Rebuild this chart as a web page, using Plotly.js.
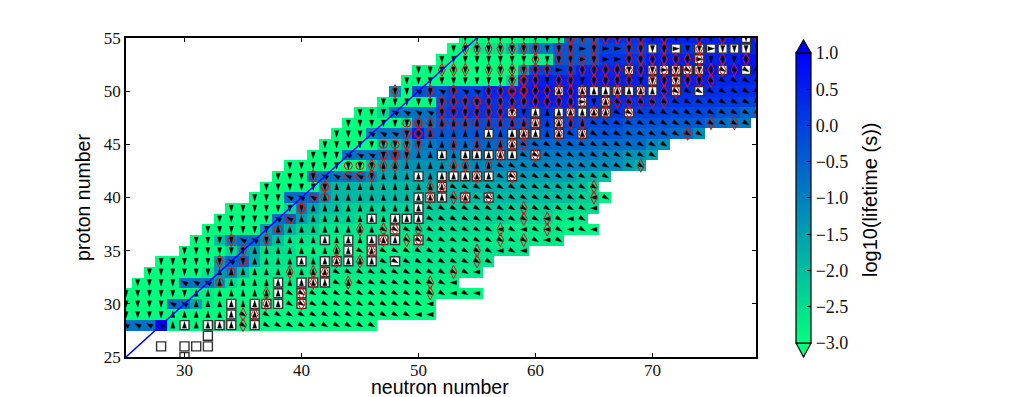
<!DOCTYPE html>
<html><head><meta charset="utf-8">
<script src="https://cdn.plot.ly/plotly-3.0.1.min.js"></script>
<style>html,body{margin:0;padding:0;background:#fff}</style></head>
<body><div id="chart" style="width:1016px;height:397px"></div>
<script>
// cell extent per proton number: [Z, first N, last N]
const rowExtent = [[28,25,46],[29,25,51],[30,25,51],[31,25,55],[32,26,53],[33,27,55],[34,28,56],[35,30,59],[36,31,62],[37,32,65],[38,33,64],[39,34,65],[40,36,66],[41,37,65],[42,38,66],[43,39,69],[44,41,70],[45,42,71],[46,43,74],[47,44,78],[48,45,79],[49,47,79],[50,48,79],[51,49,79],[52,50,79],[53,52,79],[54,53,79],[55,54,79]];

// log10(lifetime) read per row as N, value, N, value ... (value holds until next N)
const heat28=[25,-0.8,28,1,29,-2.8,31,-2.9,40,-3];
const heat29=[25,-3,35,-2.9,45,-3];
const heat30=[25,-3,29,-0.7,31,-1.6,32,-2.7,33,-2.9,45,-3];
const heat31=[25,-3,31,-2.7,33,-2.9];
const heat32=[26,-3,30,-0.8,33,-1.4,34,-2.4,35,-2.8];
const heat33=[27,-3,32,-2.6,33,-1.4,34,-1.1,35,-2.0,36,-2.7];
const heat34=[28,-3,33,-1.4,34,-0.6,36,-1.7,37,-2.6];
const heat35=[30,-3,34,-2.4,35,-1.4,36,-1.6,37,-2.5,40,-2.8,50,-2.6];
const heat36=[31,-3,33,-2.0,34,-1,35,-0.7,37,-1.3,38,-2,39,-2.6,42,-2.8,50,-2.6,56,-2.7];
const heat37=[32,-3,37,-1.4,38,-1.0,39,-1.8,40,-2.3,42,-2.6,50,-2.5,57,-2.7,63,-2.9];
const heat38=[33,-3,38,-0.8,39,-0.5,40,-1.5,41,-2.0,42,-2.3,45,-2.5,50,-2.3,58,-2.4,62,-2.7];
const heat39=[34,-3,39,-2.4,40,-1.0,41,-1.6,42,-2.0,44,-2.3,50,-2.2,58,-2.3,62,-2.5];
const heat40=[36,-3,39,-0.7,42,-1.4,43,-1.9,50,-1.9,60,-2.0,64,-2.3,66,-2.8];
const heat41=[37,-3,41,-2.9,42,-1.5,43,-1.9,50,-1.8,55,-1.7,60,-1.8,63,-2.0,65,-2.5];
const heat42=[38,-3,41,-0.8,46,-1.1,47,-1.6,50,-1.5,55,-1.4,60,-1.5,64,-1.8,66,-2.1];
const heat43=[39,-3,46,-2.0,47,-1.5,49,-1.3,55,-1.1,65,-1.2,68,-1.5,69,-1.8];
const heat44=[41,-3,44,-0.8,49,-1.1,50,-1.0,55,-0.9,66,-1.1,68,-1.3,70,-1.6];
const heat45=[42,-3,47,-2.0,49,-1.4,50,-0.9,52,-0.7,55,-0.6,65,-0.7,70,-1.1,71,-1.3];
const heat46=[43,-3,46,-1.1,47,-0.8,50,0.5,51,-0.4,55,-0.3,60,-0.2,64,-0.3,68,-0.5,72,-0.7,74,-1.2];
const heat47=[44,-3,49,-2.5,50,-0.9,52,-0.4,55,-0.2,60,0,64,-0.1,68,-0.3,72,-0.4,75,-0.7,77,-0.9];
const heat48=[45,-3,47,-2.4,48,-0.8,52,-0.1,53,0.2,68,0,72,-0.1,76,-0.3,78,-0.6];
const heat49=[47,-3,52,-0.3,53,0,55,0.2,60,0.5,64,0.3,70,0.2,74,0.1,78,0];
const heat50=[48,-1.3,49,-3,50,-0.3,53,0,56,0.4,60,0.6,66,0.4,72,0.3];
const heat51=[49,-3,58,-2.3,59,0.2,60,0.5,76,0.4];
const heat52=[50,-3,59,-1.4,60,0,64,0.4,70,0.7];
const heat53=[52,-3,60,-2.8,62,-0.4,66,0.2,70,0.5,78,0.7];
const heat54=[53,-3,55,-2.6,58,-2.0,59,-1.3,60,-0.9,62,-0.4,66,0,70,0.2,75,0.5];
const heat55=[54,-3,60,-2.8,63,-0.5,66,0.2,70,0.5];
const heatRows=[heat28,heat29,heat30,heat31,heat32,heat33,heat34,heat35,heat36,heat37,heat38,heat39,heat40,heat41,heat42,heat43,heat44,heat45,heat46,heat47,heat48,heat49,heat50,heat51,heat52,heat53,heat54,heat55];

// arrow direction per row as "N code" runs: d down, u up, s south-east, w west, n north-west, e east
const arrowRows=[
"25n 28n 29u 35s 36u 37s",
"25d 29u 35s 36u 37s 50w",
"25d 29n 31u 39s 51w",
"25d 31u 39s 53w 54s 55w",
"26d 30n 33u 43s 44u 45s 53w",
"27d 33u 43s 55w",
"28d 34n 35d 36u 47s",
"30d 36u 45s 46u 47s 57w 58s 59w",
"31d 35n 37d 38u 49s 61w 62s",
"32d 38u 47s 57w 58s 59w 60s 61w 62s 63w 64s 65w",
"33d 38n 40u 51s 61w 62s 63w 64s",
"34d 41u 51s 65w",
"36d 39n 42u 53s 54u 55s 65w 66s",
"37d 43u 53s",
"38d 42n 46d 47u 57s",
"39d 47u 57s",
"41d 44n 47d 50u 59s",
"42d 51u 59s",
"43d 46n 49d 51u 63s 64u 65s",
"44d 51u 65s",
"45d 48n 52d 60u 67s",
"47d 64e 65d 66u 67s",
"48d 50n 51d 52n 53d 54n 56d 58e 59d 62u 71s",
"49d 75s",
"50d 62e 63d 71e 72d 73s 74d 76s",
"52d 64e 65d 66e 68d 74e 75d",
"53d 64e 65d 66e 68d 72e 73d 75e 76d",
"54d"];

const squareZ=[25,26,27,28,29,30,31,32,33,34,35,36,37,38,39,40,41,42,44,45,46,47,48,49,50,51,52,53,54,55];
const squareN=[[30],[28,30,31,32],[32],[30,32,33,34,36],[34,36],[34,36,37,38,40],[38,40],[38,40,41,42],[42],[40,42,43,44,46,48],[44,46],[42,44,46,47,48,50],[48],[46,48,49,50],[50],[50,51,52,54,56],[52],[50,52,53,54,55,56,58],[52,54,55,56,57,58,60],[58],[56,58,59,60,62,64],[60,62],[58,60,62,63,64,65,66,68],[64,66],[62,64,65,66,67,68,69,70,72,74],[70,72],[68,70,71,72,73,74,76,78],[74],[70,72,74,75,76,77,78],[78]];

const diamondZ=[28,29,30,31,32,33,34,35,36,37,38,39,40,41,42,43,44,45,46,47,48,49,50,51,52,53,54,55];
const diamondN=[[35],[35,36],[37,40],[37,40,51],[41,44,51],[39,41,42,53],[33,43,45,55],[35,43,46,55],[34,37,47,49,50,57,59],[45,47,48,50,57,61],[59,61],[40,59],[51,53,54,56,65],[42,51,52,65],[41,46,55,58],[46,47,48,53,54,56,69],[48,49,57,60],[49,50,53,55,57,58,59],[50,51,59,62,64,73],[50,51,52,53,54,55,56,57,58,59,60,62,63,64,75,77],[52,54,55,56,57,58,63,65,66,68,79],[52,53,54,55,56,57,58,59,60,61,62,63,64,66,67,68,69,70,71],[48,51,53,56,57,58,59,60,61,62,63,64,67,69,71,72],[58,59,60,62,63,65,66,67,68,70,71,72,73,74,75],[52,53,54,56,57,58,59,60,61,63,64,65,66,67,68,69,70,71,72,73,74,75,76,77],[60,62,63,64,65,68,69,70,71,72,73,74,76,78],[54,55,56,57,58,59,60,62,63,65,68,69,71,74],[63,64,65,66,67,68,69,71,74,76,79]];

const circleZ=[32,33,34,37,38,39,40,41,42,43,44,45,46,47,48,49,50,51,55];
const circleN=[[33],[34],[35],[38],[39],[40],[41,42],[42],[44,45],[44,45],[47,48],[47,48],[49,50],[49,50],[53],[55],[58,59],[59],[63]];

const lineN=[25,55];
const lineZ=[25,55];
const angleOf={d:180,u:0,s:120,w:-90,n:-60,e:90};

const nAxis=[];for(let n=25;n<=79;n++)nAxis.push(n);
const zAxis=[];for(let z=25;z<=55;z++)zAxis.push(z);
const grid=zAxis.map(()=>nAxis.map(()=>null));
const ax=[],ay=[],aa=[];
// plot scale, used only to centre the arrow glyph on its cell (the glyph's origin is its tip)
const pxPerN=630/53.85, pxPerZ=319/30, arrowHalf=3.6;
rowExtent.forEach((r,i)=>{
  const z=r[0],first=r[1],last=r[2],h=heatRows[i];
  const runs=arrowRows[i].split(" ").map(t=>[parseInt(t),t.slice(-1)]);
  for(let n=first;n<=last;n++){
    let v=h[1];
    for(let k=0;k<h.length;k+=2) if(n>=h[k]) v=h[k+1];
    grid[z-25][n-25]=v;
    let c=runs[0][1];
    runs.forEach(q=>{if(n>=q[0])c=q[1];});
    const t=angleOf[c]*Math.PI/180;
    ax.push(n+arrowHalf*Math.sin(t)/pxPerN);
    ay.push(z+arrowHalf*Math.cos(t)/pxPerZ);
    aa.push(angleOf[c]);
  }
});
function flat(zs,ns){const x=[],y=[];zs.forEach((z,i)=>ns[i].forEach(n=>{x.push(n);y.push(z);}));return {x,y};}
const sq=flat(squareZ,squareN),di=flat(diamondZ,diamondN),ci=flat(circleZ,circleN);

const serif="'Liberation Serif','DejaVu Serif',serif";
const sans="'Liberation Sans',Arial,sans-serif";
const data=[
 {type:'heatmap',x:nAxis,y:zAxis,z:grid,zmin:-3,zmax:1,hoverongaps:false,
  colorscale:[[0,'rgb(0,255,127)'],[1,'rgb(0,0,255)']],
  colorbar:{x:1.0635,xanchor:'left',xpad:0,ypad:0,y:0.953,yanchor:'top',lenmode:'pixels',len:290,thicknessmode:'pixels',thickness:15,
   outlinecolor:'#000',outlinewidth:1.2,tick0:-3,dtick:0.5,tickformat:'.1f',ticks:'inside',ticklen:4,tickcolor:'#000',
   tickfont:{family:serif,size:18,color:'#111'}}},
 {type:'scatter',mode:'markers',x:sq.x,y:sq.y,hoverinfo:'skip',marker:{symbol:'square',size:9,color:'#fff',line:{color:'#333',width:1.4}}},
 {type:'scatter',mode:'markers',x:ax,y:ay,hoverinfo:'skip',marker:{symbol:'arrow',size:7,color:'#000',angle:aa,line:{color:'#000',width:0.3}}},
 {type:'scatter',mode:'markers',x:di.x,y:di.y,hoverinfo:'skip',marker:{symbol:'diamond-tall-open',size:9.5,color:'#e01010',line:{color:'#e01010',width:1}}},
 {type:'scatter',mode:'markers',x:ci.x,y:ci.y,hoverinfo:'skip',marker:{symbol:'circle-open',size:8,color:'#e01010',line:{color:'#e01010',width:1}}},
 {type:'scatter',mode:'lines',x:lineN,y:lineZ,hoverinfo:'skip',line:{color:'#0000ff',width:1.5}}
];
function px(x){return (x-126)/630;}
function py(y){return (357-y)/319;}
const layout={width:1016,height:397,showlegend:false,paper_bgcolor:'#fff',plot_bgcolor:'#fff',
 margin:{l:126,r:260,t:38,b:40,pad:0},
 xaxis:{range:[25,78.85],tickvals:[30,40,50,60,70],ticktext:['30','40','50','60','70'],ticks:'inside',ticklen:4,tickcolor:'#000',mirror:'allticks',showline:true,linecolor:'#000',linewidth:1.5,showgrid:false,zeroline:false,ticklabelstandoff:-3,
  tickfont:{family:serif,size:17,color:'#111'}},
 yaxis:{range:[25,55],tickvals:[25,30,35,40,45,50,55],ticks:'inside',ticklen:4,tickcolor:'#000',mirror:'allticks',showline:true,linecolor:'#000',linewidth:1.5,showgrid:false,zeroline:false,
  tickfont:{family:serif,size:17,color:'#111'},title:{text:'proton number',font:{family:sans,size:19.5,color:'#000'},standoff:8}},
 annotations:[
  {xref:'paper',yref:'paper',x:px(870),y:py(200),text:'log10(lifetime (s))',textangle:-90,showarrow:false,xanchor:'center',yanchor:'middle',font:{family:sans,size:20,color:'#000'}},
  {xref:'paper',yref:'paper',x:px(440),y:py(387),text:'neutron number',showarrow:false,xanchor:'center',yanchor:'middle',font:{family:sans,size:19.5,color:'#000'}}],
 shapes:[
  {type:'path',xref:'paper',yref:'paper',path:`M ${px(796)} ${py(53)} L ${px(803.5)} ${py(40)} L ${px(811)} ${py(53)} Z`,fillcolor:'#0000ff',line:{color:'#000',width:1.2}},
  {type:'path',xref:'paper',yref:'paper',path:`M ${px(796)} ${py(343)} L ${px(803.5)} ${py(357)} L ${px(811)} ${py(343)} Z`,fillcolor:'rgb(0,255,127)',line:{color:'#000',width:1.2}}
 ]};
Plotly.newPlot('chart',data,layout,{displayModeBar:false,responsive:false});
</script></body></html>
